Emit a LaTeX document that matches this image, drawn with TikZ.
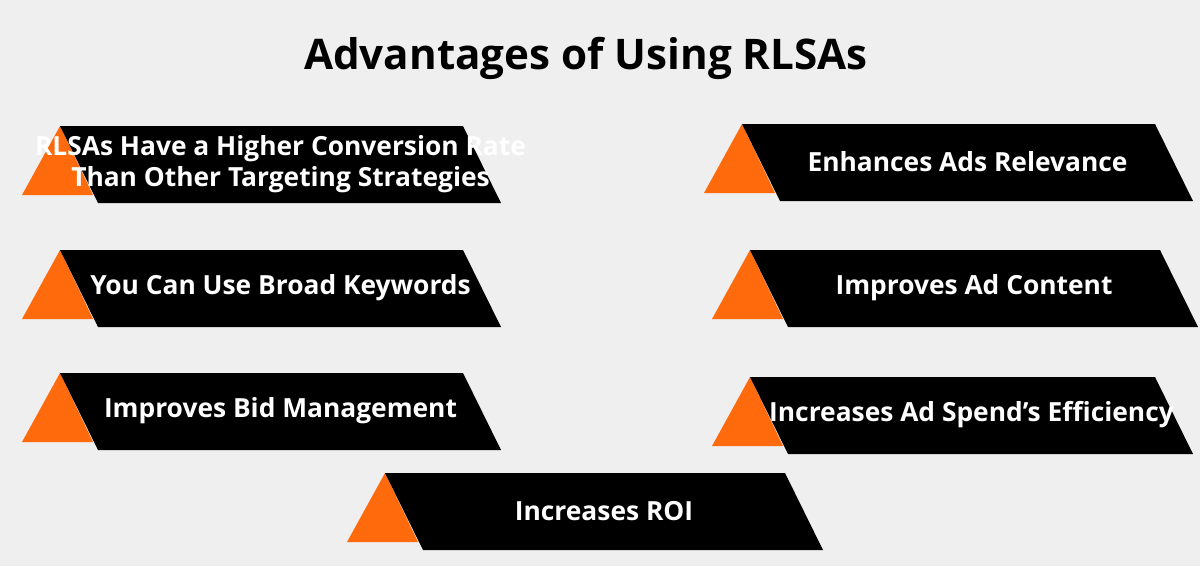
\documentclass[tikz,border=0pt]{standalone}
\usepackage{fontspec}
\setmainfont{Open Sans}
\usetikzlibrary{calc}
\definecolor{bgray}{HTML}{EFEFEF}
\definecolor{rorange}{HTML}{FF6A0D}
\definecolor{rshade}{HTML}{D9560A}

\tikzset{
	lbl/.style={text=white, font=\bfseries\fontsize{15}{18}\selectfont, align=center},
	tri/.style={fill=rorange},
	bar/.style={fill=black}
}

% block at (x,y) = top-left corner of the black bar, w = top width
\newcommand{\advblock}[5]{%
	\fill[tri] (#1,#2) -- (#1-38,#2+69) -- (#1+33,#2+69) -- cycle;
	\fill[bar] (#1,#2) -- (#1+#3,#2) -- (#1+#3+38,#2+77) -- (#1+38,#2+77) -- cycle;
	\node[lbl] (#4) at (#1+#3/2+19,#2+38) {#5};
}

\begin{document}
\begin{tikzpicture}[x=0.02cm,y=-0.02cm]
	\fill[bgray] (0,0) rectangle (1200,566);
	
	\node[font=\bfseries\fontsize{24}{28}\selectfont] (title) at (586,58) {Advantages of Using RLSAs};
	
	\advblock{60}{126}{403}{conv}{RLSAs Have a Higher Conversion Rate\\Than Other Targeting Strategies}
	\advblock{60}{250}{403}{broad}{You Can Use Broad Keywords}
	\advblock{60}{373}{403}{bid}{Improves Bid Management}
	
	\advblock{742}{124}{413}{relev}{Enhances Ads Relevance}
	\advblock{750}{250}{410}{content}{Improves Ad Content}
	\advblock{750}{377}{405}{spend}{Increases Ad Spend’s Efficiency}
	
	\advblock{385}{473}{400}{roi}{Increases ROI}
	
\end{tikzpicture}
\end{document}
